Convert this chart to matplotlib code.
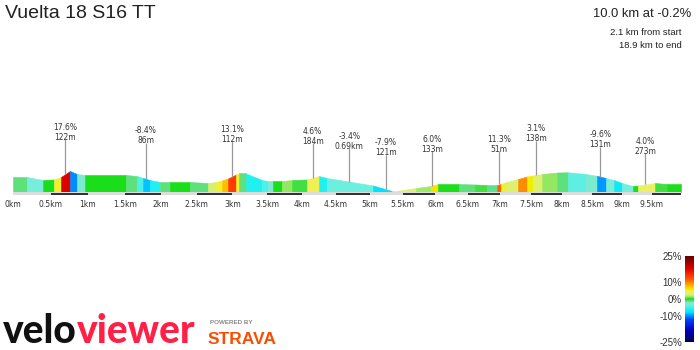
import numpy as np
import matplotlib
matplotlib.use("Agg")
import matplotlib.pyplot as plt
from matplotlib.colors import LinearSegmentedColormap, Normalize
from matplotlib.cm import ScalarMappable

# ---- text ----
title = "Vuelta 18 S16 TT"
summary = "10.0 km at -0.2%"
from_start = "2.1 km from start"
to_end = "18.9 km to end"

# ---- profile: distance (km), elevation (m) at segment boundaries ----
dist_km = [0.000, 0.185, 0.398, 0.544, 0.638, 0.759, 0.853, 0.961, 1.518, 1.669,
           1.752, 1.848, 1.986, 2.125, 2.404, 2.656, 2.769, 2.854, 2.939, 3.053,
           3.096, 3.195, 3.424, 3.511, 3.582, 3.712, 3.857, 4.076, 4.252, 4.369,
           5.052, 5.338, 5.399, 5.703, 5.932, 6.040, 6.365, 6.614, 6.803, 6.961,
           7.024, 7.103, 7.294, 7.438, 7.534, 7.679, 7.922, 8.101, 8.397, 8.578,
           8.728, 8.861, 8.995, 9.180, 9.264, 9.553, 9.759, 10.000]
elev_m = [92.5, 92.5, 82.0, 83.8, 92.5, 113.5, 103.0, 99.5, 99.5, 96.0,
          89.0, 82.0, 75.0, 75.0, 75.0, 71.5, 75.0, 80.3, 87.3, 101.3,
          104.8, 104.8, 82.0, 78.5, 78.5, 78.5, 82.0, 83.8, 96.0, 89.0,
          62.8, 43.5, 43.5, 54.0, 61.0, 68.0, 68.0, 66.3, 64.5, 64.5,
          68.0, 75.0, 85.5, 94.3, 97.8, 103.0, 108.3, 109.0, 103.0, 96.7,
          89.0, 82.0, 71.5, 61.0, 62.8, 71.5, 68.0, 68.0]
# gradient (%) of each segment between consecutive boundaries
grade_pct = [-1, -3, 0, 5, 17.6, -10, -2.5, 0, -1, -4.5,
             -8.4, -6, -1, 0, -1, 2.5, 5, 7.5, 13.1, 5,
             -1, -6, -4.5, -2.5, 0, 1.2, 0.5, 4.6, -6, -3.4,
             -7.9, 3, 3, 1.5, 6.0, 0, -1, 0.5, -1.5, 11.3,
             5, 3, 9.5, 5.5, 3.1, 1.2, -1, -4, -2.5, -9.6,
             -3, -7, -3, 0, 4.0, 0.5, 0]

# ---- callouts ----
callout_km = [0.692, 1.789, 2.991, 4.159, 4.699, 5.243, 5.952, 6.997, 7.582, 8.633, 9.383]
callout_grade = ["17.6%", "-8.4%", "13.1%", "4.6%", "-3.4%", "-7.9%",
                 "6.0%", "11.3%", "3.1%", "-9.6%", "4.0%"]
callout_len = ["122m", "86m", "112m", "184m", "0.69km", "121m",
               "133m", "51m", "138m", "131m", "273m"]
# vertical placement of each callout (figure pixels from top, first line)
callout_row_px = [129, 132.5, 131, 133, 138, 144.5, 141, 141, 130.5, 136.5, 143]

# ---- gradient colour scale ----
scale_ticks = [-25, -10, 0, 10, 25]
grade_nodes = [-25, -18, -12, -10, -9, -8, -6, -4.5, -3, -2, -1.5, -1, 0,
               0.5, 1.2, 2.5, 4.5, 5.5, 7.5, 9.5, 11.3, 13, 17.5, 25]
grade_colors = ["#000050", "#0000c0", "#0040ff", "#0090ff", "#00aaff", "#00e0ff",
                "#20f0f0", "#50f0e8", "#78eedc", "#80e8c0", "#60e090", "#5ee07a",
                "#10dd10", "#40e040", "#90e860", "#d8f070", "#f0f060", "#f0f000",
                "#ffc000", "#ff8c00", "#ff6000", "#ff4000", "#e00000", "#600000"]

W, H = 700, 350
fig = plt.figure(figsize=(W / 100, H / 100), dpi=100)
fig.patch.set_facecolor("white")

lo, hi = grade_nodes[0], grade_nodes[-1]
cmap = LinearSegmentedColormap.from_list(
    "grade", [((v - lo) / (hi - lo), c) for v, c in zip(grade_nodes, grade_colors)])
norm = Normalize(lo, hi)

# profile axes: slight perspective along the distance axis
A, B = 75.8, 0.9


def fwd(d):
    d = np.asarray(d, dtype=float)
    return A * d - B * d ** 2


def inv(y):
    y = np.asarray(y, dtype=float)
    return (A - np.sqrt(np.clip(A ** 2 - 4 * B * y, 0, None))) / (2 * B)


ax = fig.add_axes([13 / W, 1 - 195 / H, 668 / W, 75 / H])
ax.set_xscale("function", functions=(fwd, inv))
ax.set_xlim(0, 10)
base = 40.0
ax.set_ylim(29.5, 292)

d = np.array(dist_km)
e = np.array(elev_m)
for i, g in enumerate(grade_pct):
    c = cmap(norm(g))
    ax.fill_between(d[i:i + 2], base, e[i:i + 2], color=c, lw=0.4, ec=c)

# km strip under the profile
ax.fill_between([0, 10], 31.25, base, color="#dcdcdc", lw=0)
for k in range(10):
    ax.fill_between([k + 0.5, k + 1], 29.5, 38.25, color="#333333", lw=0)

ticks = np.arange(0, 10, 0.5)
ax.set_xticks(ticks)
ax.set_xticklabels([f"{t:g}km" for t in ticks], fontsize=5.5,
                   family="DejaVu Sans", color="#333333")
ax.tick_params(axis="x", length=0, pad=3.4)
ax.set_yticks([])
for s in ax.spines.values():
    s.set_visible(False)
ax.patch.set_alpha(0)


def px_to_elev(p):
    return ax.transData.inverted().transform((0, H - p))[1]


for km, gtxt, ltxt, row in zip(callout_km, callout_grade, callout_len, callout_row_px):
    ax.text(km, px_to_elev(row + 3.4), f"{gtxt}\n{ltxt}", ha="center", va="center",
            fontsize=5.5, linespacing=1.15, multialignment="center",
            family="DejaVu Sans", color="#333333")
    top = np.interp(km, d, e)
    ax.plot([km, km], [top, px_to_elev(row + 10.5)], color="#999999", lw=0.9,
            solid_capstyle="butt")

# gradient colour bar
cax = fig.add_axes([685 / W, 1 - 342 / H, 9 / W, 86 / H])
cb = fig.colorbar(ScalarMappable(norm=norm, cmap=cmap), cax=cax)
cb.outline.set_visible(False)
cb.set_ticks(scale_ticks)
cb.set_ticklabels([f"{t}%" for t in scale_ticks])
cax.yaxis.set_ticks_position("left")
cax.tick_params(length=0, pad=2.2, labelsize=7, labelcolor="#333333")
for lab in cax.get_yticklabels():
    lab.set_family("Liberation Sans")

# headings
fig.text(5 / W, 1 - 14 / H, title, ha="left", va="center", fontsize=14,
         family="Liberation Sans", color="#222222")
fig.text(691 / W, 1 - 14 / H, summary, ha="right", va="center", fontsize=9.4,
         family="Liberation Sans", color="#222222")
fig.text(682 / W, 1 - 32.5 / H, from_start, ha="right", va="center", fontsize=6.8,
         family="Liberation Sans", color="#222222")
fig.text(682 / W, 1 - 45 / H, to_end, ha="right", va="center", fontsize=6.8,
         family="Liberation Sans", color="#222222")

# brand mark
r = fig.canvas.get_renderer()
t1 = fig.text(3 / W, 1 - 343 / H, "velo", ha="left", va="baseline", fontsize=28,
              family="Lato", fontweight="black", color="#111111")
bb = t1.get_window_extent(r)
fig.text(bb.x1 / W, 1 - 343 / H, "viewer", ha="left", va="baseline", fontsize=28,
         family="Lato", fontweight="black", color="#ff1f47")
fig.text(210 / W, 1 - 323 / H, "POWERED BY", ha="left", va="center", fontsize=4.5,
         family="Liberation Sans", fontweight="bold", color="#8a8a8a")
fig.text(208 / W, 1 - 339.5 / H, "STRAVA", ha="left", va="center", fontsize=12.5,
         family="Liberation Sans", fontweight="bold", color="#fc4c02")

fig.savefig("out.png", dpi=100, facecolor="white")
